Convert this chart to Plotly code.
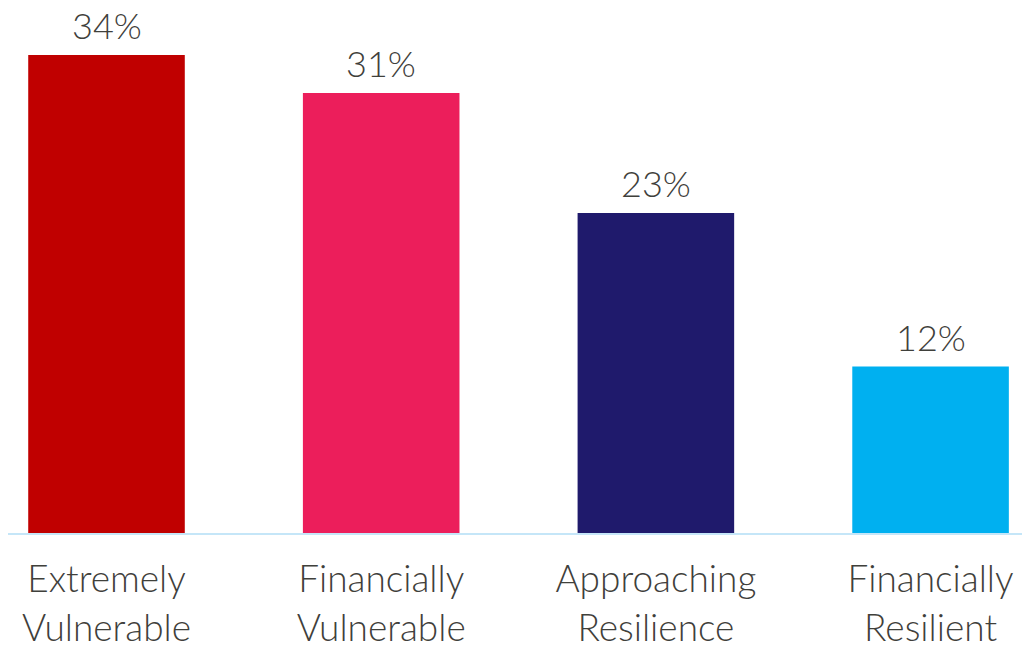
import plotly.graph_objects as go

categories = ["Extremely<br>Vulnerable", "Financially<br>Vulnerable",
              "Approaching<br>Resilience", "Financially<br>Resilient"]
shares = [33.9, 31.2, 22.7, 11.8]
share_labels = ["34%", "31%", "23%", "12%"]
bar_colors = ["#C00000", "#EC1E5B", "#1F1A6C", "#00B0F0"]

text_color = "#3F403B"

fig = go.Figure(go.Bar(
    x=categories,
    y=shares,
    marker=dict(color=bar_colors, line=dict(width=0)),
    width=0.57,
    hoverinfo="x+y",
))

# value labels sit a little above each bar
for cat, val, lab in zip(categories, shares, share_labels):
    fig.add_annotation(
        x=cat, y=val, text=lab, showarrow=False,
        yanchor="bottom", yshift=6,
        font=dict(size=36, color=text_color, family="Lato", weight=300),
    )

# the page body adds an 8px margin, so the figure is 8px smaller
fig.update_layout(
    width=1022, height=644,
    margin=dict(l=0, r=0, t=0, b=119),
    paper_bgcolor="white", plot_bgcolor="white",
    showlegend=False,
    font=dict(family="Lato", color=text_color),
)
fig.update_xaxes(
    range=[-0.3586, 3.362],
    showline=True, linecolor="#C5E6F8", linewidth=2,
    showgrid=False, ticks="",
    tickfont=dict(size=37, color=text_color, family="Lato", weight=300),
    ticklabelstandoff=13,
)
fig.update_yaxes(range=[0, 37.23], visible=False)

fig.write_html("out.html")
